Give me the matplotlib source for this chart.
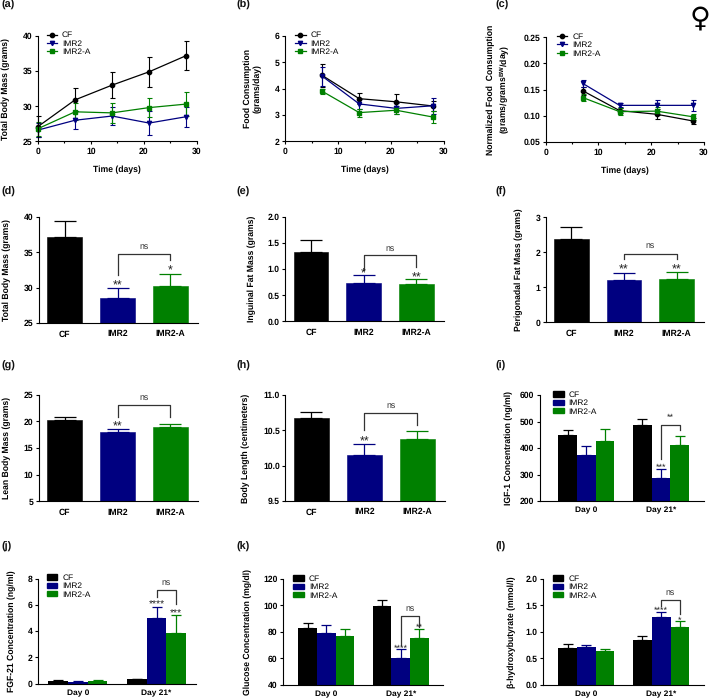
import matplotlib
matplotlib.use("Agg")
import matplotlib.pyplot as plt
from matplotlib.lines import Line2D
from matplotlib.patches import Patch

plt.rcParams['font.family'] = ['Liberation Sans', 'DejaVu Sans']
plt.rcParams['mathtext.fontset'] = 'custom'
plt.rcParams['mathtext.bf'] = 'Liberation Sans:bold'
plt.rcParams['text.hinting'] = 'none'

W, H = 709, 698
BLACK, BLUE, GREEN = '#000000', '#000080', '#008000'
colors = [BLACK, BLUE, GREEN]
names = ['CF', 'IMR2', 'IMR2-A']
markers = ['o', 'v', 's']

# line panels
a_days = [0, 7, 14, 21, 28]
a_cf = [27.1, 30.9, 33.0, 34.9, 37.2]
a_cf_err = [1.5, 1.65, 1.85, 2.1, 2.1]
a_imr = [26.6, 28.0, 28.6, 27.6, 28.5]
a_imr_err = [1.0, 1.3, 1.3, 1.65, 1.4]
a_ima = [26.8, 29.2, 29.05, 29.8, 30.3]
a_ima_err = [1.0, 1.2, 1.4, 1.3, 1.7]

b_days = [7, 14, 21, 28]
b_cf = [4.5, 3.62, 3.5, 3.34]
b_cf_err = [0.45, 0.2, 0.3, 0.2]
b_imr = [4.47, 3.42, 3.25, 3.35]
b_imr_err = [0.37, 0.2, 0.2, 0.3]
b_ima = [3.9, 3.09, 3.18, 2.92]
b_ima_err = [0.1, 0.15, 0.15, 0.22]

c_cf = [0.148, 0.11, 0.103, 0.09]
c_cf_err = [0.008, 0.005, 0.01, 0.005]
c_imr = [0.162, 0.12, 0.12, 0.12]
c_imr_err = [0.007, 0.004, 0.011, 0.011]
c_ima = [0.135, 0.108, 0.109, 0.098]
c_ima_err = [0.006, 0.007, 0.008, 0.006]

# three bar panels
d_vals = [37.2, 28.5, 30.3]
d_err = [2.2, 1.5, 1.7]
e_vals = [1.33, 0.74, 0.71]
e_err = [0.22, 0.14, 0.10]
f_vals = [2.37, 1.21, 1.24]
f_err = [0.35, 0.21, 0.21]
g_vals = [20.2, 18.0, 19.0]
g_err = [0.55, 0.6, 0.5]
h_vals = [10.68, 10.15, 10.38]
h_err = [0.08, 0.15, 0.11]

# grouped bar panels, one list per group: CF, IMR2, IMR2-A
days = ['Day 0', 'Day 21*']
i_vals = [[450, 375, 428], [485, 288, 410]]
i_err = [[18, 32, 45], [26, 34, 35]]
j_vals = [[0.2, 0.15, 0.22], [0.33, 5.02, 3.85]]
j_err = [[0.05, 0.05, 0.06], [0.05, 0.86, 1.35]]
k_vals = [[83, 79.5, 77], [99.4, 60.5, 75.4]]
k_err = [[4, 6, 5.5], [4.5, 6.3, 7]]
l_vals = [[0.7, 0.71, 0.64], [0.84, 1.28, 1.1]]
l_err = [[0.07, 0.04, 0.03], [0.09, 0.09, 0.1]]

fig = plt.figure(figsize=(W / 100, H / 100), dpi=100)


def make_axes(left, right, top, bottom, ylim, yticks, yfmt, ylabel, label_x):
    ax = fig.add_axes([left / W, 1 - bottom / H, (right - left) / W, (bottom - top) / H])
    ax.spines['top'].set_visible(False)
    ax.spines['right'].set_visible(False)
    ax.spines['left'].set_linewidth(0.8)
    ax.spines['bottom'].set_linewidth(0.8)
    ax.set_ylim(ylim)
    ax.set_yticks(yticks, labels=[yfmt % v for v in yticks], fontsize=6.2, fontweight='bold')
    ax.tick_params(axis='y', length=2.5, width=0.8, pad=1.5)
    ax.set_ylabel(ylabel, fontsize=6.2, fontweight='bold', linespacing=1.2, va='center')
    ax.yaxis.set_label_coords((label_x - left) / (right - left), 0.5)
    return ax


def add_legend(ax, handles, x, y):
    ax.legend(handles=handles, loc='upper left', bbox_to_anchor=(x / W, 1 - (y + 1) / H),
              bbox_transform=fig.transFigure, frameon=False, fontsize=6.0, borderpad=0,
              borderaxespad=0, labelspacing=0.12, handlelength=1.26, handleheight=0.6,
              handletextpad=0.6)


def line_panel(box, ylim, yticks, yfmt, ylabel, label_x, days_x, series, legend_xy):
    ax = make_axes(*box, ylim, yticks, yfmt, ylabel, label_x)
    for (vals, err), col, mk in zip(series, colors, markers):
        ax.errorbar(days_x, vals, yerr=err, color=col, marker=mk, ms=3.1, lw=0.9,
                    capsize=1.8, elinewidth=0.8, capthick=0.8, clip_on=False)
    ax.set_xlim(0, 30)
    ax.set_xticks([0, 10, 20, 30])
    ax.set_xticks([5, 15, 25], minor=True)
    ax.set_xticklabels(['0', '10', '20', '30'], fontsize=6.2, fontweight='bold')
    ax.tick_params(axis='x', which='major', length=2.5, width=0.8, pad=2)
    ax.tick_params(axis='x', which='minor', length=1.5, width=0.8)
    ax.set_xlabel('Time (days)', fontsize=6.2, fontweight='bold', labelpad=7)
    handles = [Line2D([], [], color=c, marker=m, ms=3.1, lw=0.9, label=n)
               for c, m, n in zip(colors, markers, names)]
    add_legend(ax, handles, *legend_xy)
    return ax


def bar_panel(box, ylim, yticks, yfmt, ylabel, label_x, vals, err):
    ax = make_axes(*box, ylim, yticks, yfmt, ylabel, label_x)
    for x, v, e, col in zip(range(3), vals, err, colors):
        ax.bar(x, v, width=0.66, color=col, edgecolor=col, linewidth=0.4)
        ax.errorbar(x, v, yerr=[[0], [e]], color=col, capsize=8.2, elinewidth=0.9, capthick=0.9)
    ax.set_xlim(-0.49, 2.52)
    ax.set_xticks(range(3), labels=names, fontsize=6.2, fontweight='bold')
    ax.tick_params(axis='x', length=0, pad=5)
    return ax


def group_panel(box, ylim, yticks, yfmt, ylabel, label_x, vals, err, xlim, cap, legend_xy):
    ax = make_axes(*box, ylim, yticks, yfmt, ylabel, label_x)
    for g in range(2):
        for b in range(3):
            x = g * 4 + b - 1
            ax.bar(x, vals[g][b], width=1, color=colors[b])
            ax.errorbar(x, vals[g][b], yerr=[[0], [err[g][b]]], color=colors[b], capsize=cap,
                        elinewidth=0.9, capthick=0.9)
    ax.set_xlim(xlim)
    ax.set_xticks([0, 4], labels=days, fontsize=6.0, fontweight='bold')
    ax.tick_params(axis='x', length=0, pad=4)
    handles = [Patch(color=c, label=n) for c, n in zip(colors, names)]
    add_legend(ax, handles, *legend_xy)
    return ax


def bracket(ax, x1, x2, top, y1, y2, text=None, ty=None):
    ax.plot([x1, x1, x2, x2], [y1, top, top, y2], color='#333333', lw=0.9, clip_on=False)
    if text:
        ax.text((x1 + x2) / 2, ty, text, ha='center', va='center', fontsize=6.3, color='#333333')


def stars(ax, x, y, text, size=9):
    # asterisks sit high in the line box, so shift them down a bit
    ax.annotate(text, (x, y), xytext=(0, -0.22 * size), textcoords='offset points', ha='center',
                va='center', fontsize=size, color='#222222', annotation_clip=False)


# top row
line_panel((38, 196.7, 36, 141.3), (25, 40), [25, 30, 35, 40], '%d', 'Total Body Mass (grams)', 5.5,
           a_days, [(a_cf, a_cf_err), (a_imr, a_imr_err), (a_ima, a_ima_err)], (46.5, 30.5))
line_panel((285.3, 443.7, 36, 141.3), (2, 6), [2, 3, 4, 5, 6], '%d',
           'Food Consumption\n(grams/day)', 253,
           b_days, [(b_cf, b_cf_err), (b_imr, b_imr_err), (b_ima, b_ima_err)], (295, 30.5))
line_panel((545.7, 704, 37.3, 142), (0.05, 0.25), [0.05, 0.10, 0.15, 0.20, 0.25], '%.2f',
           'Normalized Food  Consumption\n(grams/grams$^{\\mathbf{BW}}$/day)', 498.7,
           b_days, [(c_cf, c_cf_err), (c_imr, c_imr_err), (c_ima, c_ima_err)], (556.7, 32))

# second row
ax_d = bar_panel((38.7, 198, 217, 323), (25, 40), [25, 30, 35, 40], '%d', 'Total Body Mass (grams)', 6.5, d_vals, d_err)
bracket(ax_d, 1, 2, 34.7, 31.8, 33.9, 'ns', ty=35.8)
stars(ax_d, 1, 30.6, '**')
stars(ax_d, 2, 32.7, '*')

ax_e = bar_panel((285.3, 443.7, 216.7, 321.3), (0, 2), [0, 0.5, 1.0, 1.5, 2.0], '%.1f',
                 'Inguinal Fat Mass (grams)', 252, e_vals, e_err)
bracket(ax_e, 1, 2, 1.26, 0.98, 1.03, 'ns', ty=1.39)
stars(ax_e, 1, 0.96, '*')
stars(ax_e, 2, 0.88, '**')

ax_f = bar_panel((545.7, 704, 217.3, 322.3), (0, 3), [0, 1, 2, 3], '%d',
                 'Perigonadal Fat Mass (grams)', 519, f_vals, f_err)
bracket(ax_f, 1, 2, 1.95, 1.8, 1.8, 'ns', ty=2.18)
stars(ax_f, 1, 1.58, '**')
stars(ax_f, 2, 1.58, '**')

# third row
ax_g = bar_panel((38.7, 198, 394.7, 501.3), (5, 25), [5, 10, 15, 20, 25], '%d',
                 'Lean Body Mass (grams)', 6.7, g_vals, g_err)
bracket(ax_g, 1, 2, 23.1, 20.9, 20.9, 'ns', ty=24.5)
stars(ax_g, 1, 19.5, '**')

ax_h = bar_panel((285.3, 445, 395, 501), (9.5, 11), [9.5, 10.0, 10.5, 11.0], '%.1f',
                 'Body Length (centimeters)', 246, h_vals, h_err)
bracket(ax_h, 1, 2, 10.74, 10.5, 10.58, 'ns', ty=10.85)
stars(ax_h, 1, 10.37, '**')

ax_i = group_panel((540, 704, 395, 501), (200, 600), [200, 300, 400, 500, 600], '%d',
                   'IGF-1 Concentration (ng/ml)', 508.7, i_vals, i_err, (-2.48, 6.3), 3.4, (553, 390))
bracket(ax_i, 4, 5, 485, 357, 468)
stars(ax_i, 4.5, 522, '**', 6.5)
stars(ax_i, 4, 333, '***', 6.5)

# bottom row
ax_j = group_panel((38, 196, 578.7, 683.7), (0, 8), [0, 2, 4, 6, 8], '%d',
                   'FGF-21 Concentration (ng/ml)', 11.7, j_vals, j_err, (-2.03, 6.01), 3.6, (46.7, 573))
bracket(ax_j, 4, 5, 7.16, 6.6, 6.07, 'ns', ty=7.7)
stars(ax_j, 4, 6.2, '****', 7.5)
stars(ax_j, 5, 5.5, '***', 7.5)

ax_k = group_panel((283.3, 443.3, 579, 684.7), (40, 120), [40, 60, 80, 100, 120], '%d',
                   'Glucose Concentration (mg/dl)', 248, k_vals, k_err, (-2.3, 6.28), 3.4, (293.3, 574))
bracket(ax_k, 4, 5, 92, 70, 84, 'ns', ty=97.8)
stars(ax_k, 4, 69, '****', 6.5)
stars(ax_k, 5, 84.7, '**', 6.5)

ax_l = group_panel((543.3, 704, 579, 684.7), (0, 2), [0, 0.5, 1.0, 1.5, 2.0], '%.1f',
                   '\u03b2-hydroxybutyrate (mmol/l)', 511.7, l_vals, l_err, (-2.3, 6.29), 3.4, (552.7, 574))
bracket(ax_l, 4, 5, 1.6, 1.48, 1.34, 'ns', ty=1.75)
stars(ax_l, 4, 1.43, '****', 6.5)
stars(ax_l, 5, 1.25, '*', 6.5)

# panel letters
letters = ['(a)', '(b)', '(c)', '(d)', '(e)', '(f)', '(g)', '(h)', '(i)', '(j)', '(k)', '(l)']
letter_x = [1, 236, 495.5] * 4
letter_y = [5, 5, 5, 191.5, 191.5, 191.5, 366, 366, 366, 547, 547, 547]
for t, x, y in zip(letters, letter_x, letter_y):
    fig.text(x / W, 1 - y / H, t, fontsize=7.8, fontweight='bold', va='center', color='#111111')

# female symbol
fig.text(699.5 / W, 1 - 19.5 / H, '\u2640', fontsize=20.5, family='DejaVu Sans', ha='center', va='center', color='black')

fig.savefig('out.png', dpi=100)
